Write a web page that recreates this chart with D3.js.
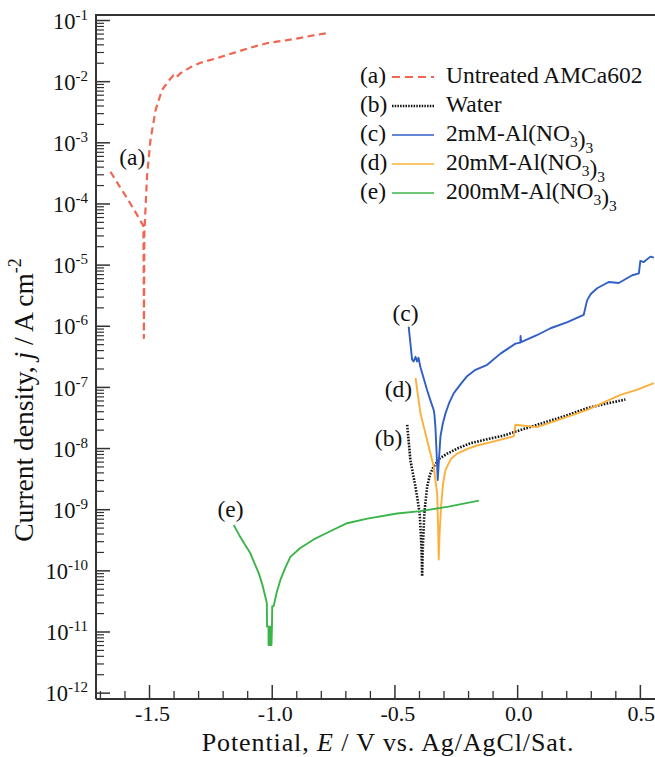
<!DOCTYPE html>
<html>
<head>
<meta charset="utf-8">
<script src="https://cdn.jsdelivr.net/npm/d3@7"></script>
<style>
  body { margin: 0; background: #fff; }
  svg { display: block; }
  text { font-family: "Liberation Serif", "LiberationSerif", "Times New Roman", Times, "Nimbus Roman", "DejaVu Serif", serif; fill: #111; }
</style>
</head>
<body>
<svg id="chart" width="655" height="757"></svg>
<script>
// Polarization curves: potential E (V vs. Ag/AgCl/Sat.) and current density j (A cm^-2)

// (a) Untreated AMCa602
const curveA = [
  [-1.657, 3.3e-4], [-1.620, 1.9e-4], [-1.588, 1.2e-4], [-1.555, 7.2e-5], [-1.523, 4.3e-5],
  [-1.522, 1.2e-5], [-1.521, 2.6e-6], [-1.521, 6.3e-7], [-1.520, 2.6e-6], [-1.519, 3.3e-5],
  [-1.508, 2.8e-4], [-1.494, 1.1e-3], [-1.473, 3.4e-3], [-1.447, 7.2e-3], [-1.413, 1.1e-2],
  [-1.400, 1.25e-2], [-1.390, 1.15e-2], [-1.372, 1.35e-2], [-1.330, 1.7e-2], [-1.290, 2.0e-2],
  [-1.220, 2.4e-2], [-1.155, 2.9e-2], [-1.090, 3.5e-2], [-1.017, 4.2e-2], [-0.950, 4.6e-2],
  [-0.883, 5.1e-2], [-0.830, 5.6e-2], [-0.773, 6.1e-2]
];

// (b) Water
const curveB = [
  [-0.448, 2.4e-8], [-0.435, 6.3e-9], [-0.414, 2.3e-9], [-0.397, 8.5e-10], [-0.390, 2.5e-10],
  [-0.387, 8.0e-11], [-0.384, 2.5e-10], [-0.378, 8.7e-10], [-0.367, 2.3e-9], [-0.355, 3.7e-9],
  [-0.340, 5.0e-9], [-0.315, 6.8e-9], [-0.285, 8.1e-9], [-0.240, 1.0e-8], [-0.190, 1.2e-8],
  [-0.120, 1.4e-8], [-0.055, 1.6e-8], [0.010, 1.95e-8], [0.081, 2.4e-8], [0.180, 3.2e-8],
  [0.285, 4.5e-8], [0.360, 5.3e-8], [0.441, 6.2e-8]
];

// (c) 2mM-Al(NO3)3
const curveC = [
  [-0.442, 9.7e-7], [-0.428, 2.8e-7], [-0.4225, 2.6e-7], [-0.414, 3.1e-7], [-0.408, 2.6e-7],
  [-0.402, 3.0e-7], [-0.394, 2.1e-7], [-0.380, 1.35e-7], [-0.367, 8.9e-8], [-0.352, 5.8e-8],
  [-0.340, 4.2e-8], [-0.337, 3.5e-8], [-0.333, 2.2e-8], [-0.328, 8.0e-9], [-0.3235, 3.0e-9],
  [-0.318, 7.0e-9], [-0.3125, 1.55e-8], [-0.303, 2.5e-8], [-0.292, 3.7e-8], [-0.276, 5.6e-8],
  [-0.258, 7.9e-8], [-0.231, 1.1e-7], [-0.204, 1.5e-7], [-0.170, 1.9e-7], [-0.122, 2.3e-7],
  [-0.068, 3.5e-7], [-0.007, 5.1e-7], [0.013, 5.3e-7], [0.014, 6.8e-7], [0.016, 5.4e-7],
  [0.080, 7.0e-7], [0.136, 9.1e-7], [0.205, 1.15e-6], [0.271, 1.5e-6], [0.285, 2.6e-6],
  [0.300, 3.3e-6], [0.326, 4.1e-6], [0.373, 5.2e-6], [0.414, 5.0e-6], [0.469, 6.7e-6],
  [0.496, 7.2e-6], [0.502, 1.15e-5], [0.516, 1.1e-5], [0.543, 1.35e-5], [0.557, 1.3e-5]
];

// (d) 20mM-Al(NO3)3
const curveD = [
  [-0.414, 1.4e-7], [-0.394, 3.7e-8], [-0.380, 2.2e-8], [-0.367, 1.35e-8], [-0.340, 5.0e-9],
  [-0.326, 1.8e-9], [-0.322, 5.0e-10], [-0.3195, 1.5e-10], [-0.316, 4.0e-10], [-0.310, 1.1e-9],
  [-0.302, 2.6e-9], [-0.292, 4.4e-9], [-0.270, 6.6e-9], [-0.2445, 8.1e-9], [-0.200, 9.8e-9],
  [-0.163, 1.1e-8], [-0.090, 1.3e-8], [-0.014, 1.55e-8], [-0.007, 2.4e-8], [0.081, 2.2e-8],
  [0.180, 3.0e-8], [0.285, 4.2e-8], [0.421, 7.4e-8], [0.490, 9.0e-8], [0.557, 1.15e-7]
];

// (e) 200mM-Al(NO3)3
const curveE = [
  [-1.155, 5.5e-10], [-1.140, 4.3e-10], [-1.128, 3.5e-10], [-1.108, 2.6e-10], [-1.087, 1.9e-10],
  [-1.070, 1.3e-10], [-1.053, 9.0e-11], [-1.038, 5.8e-11], [-1.026, 3.7e-11], [-1.020, 2.9e-11],
  [-1.019, 1.2e-11], [-1.013, 1.2e-11], [-1.013, 6e-12], [-1.011, 1.2e-11], [-1.009, 6e-12],
  [-1.007, 1.2e-11], [-1.005, 6e-12], [-1.003, 1.2e-11], [-1.001, 6e-12], [-0.999, 1.2e-11],
  [-0.998, 2.6e-11], [-0.992, 2.6e-11], [-0.980, 4.3e-11], [-0.965, 6.9e-11], [-0.945, 1.1e-10],
  [-0.924, 1.66e-10], [-0.885, 2.3e-10], [-0.829, 3.2e-10], [-0.770, 4.2e-10], [-0.693, 5.9e-10],
  [-0.610, 7.0e-10], [-0.489, 8.5e-10], [-0.394, 9.3e-10], [-0.280, 1.1e-9], [-0.156, 1.38e-9]
];

const seriesKeys = ["(a)", "(b)", "(c)", "(d)", "(e)"];
const legendNames = [
  [["Untreated AMCa602"]],
  [["Water"]],
  [["2mM-Al(NO"], ["3", "sub"], [")"], ["3", "sub"]],
  [["20mM-Al(NO"], ["3", "sub"], [")"], ["3", "sub"]],
  [["200mM-Al(NO"], ["3", "sub"], [")"], ["3", "sub"]]
];
const xMajorTicks = [-1.5, -1.0, -0.5, 0.0, 0.5];
const xTickLabels = ["-1.5", "-1.0", "-0.5", "0.0", "0.5"];
const decadeExponents = [-12, -11, -10, -9, -8, -7, -6, -5, -4, -3, -2, -1];

const series = [
  { key: "(a)", data: curveA, color: "#f26552", width: 2.2, dash: "7,4.5", label: [-1.568, 5.8e-4] },
  { key: "(b)", data: curveB, color: "#111111", width: 2.6, dash: "1.6,1.4", label: [-0.524, 1.5e-8] },
  { key: "(c)", data: curveC, color: "#2f5fc4", width: 1.9, dash: null, label: [-0.455, 1.66e-6] },
  { key: "(d)", data: curveD, color: "#fbb03b", width: 1.9, dash: null, label: [-0.484, 9.3e-8] },
  { key: "(e)", data: curveE, color: "#3bb54a", width: 1.9, dash: null, label: [-1.168, 1.0e-9] }
];

const FONT = '"Liberation Serif", "LiberationSerif", "Times New Roman", Times, "Nimbus Roman", "DejaVu Serif", serif';

const svg = d3.select("#chart");
const plot = { left: 96, right: 664.4, top: 15, bottom: 699 };

const x = d3.scaleLinear().domain([-1.716, 0.6]).range([plot.left, plot.right]);
const y = d3.scaleLog().domain([7.87e-13, 0.1208]).range([plot.bottom, plot.top]);

const axisColor = "#333";

// clip region for the curves
svg.append("defs").append("clipPath").attr("id", "plotClip")
  .append("rect").attr("x", plot.left).attr("y", plot.top)
  .attr("width", plot.right - plot.left).attr("height", plot.bottom - plot.top);

// ---- x axis: major + minor ticks pointing inward ----
const xMinor = d3.range(-17, 7).map(i => i / 10).filter(v => !xMajorTicks.some(m => Math.abs(m - v) < 1e-9));

const xAxisMajor = d3.axisBottom(x).tickValues(xMajorTicks).tickSize(-14).tickSizeOuter(0)
  .tickPadding(6).tickFormat((d, i) => xTickLabels[i]);
const gx = svg.append("g").attr("transform", `translate(0,${plot.bottom})`).call(xAxisMajor);
gx.attr("font-family", null);
gx.select(".domain").remove();
gx.selectAll(".tick line").attr("stroke", axisColor).attr("stroke-width", 1.5);
gx.selectAll(".tick text").attr("font-size", 22).attr("fill", "#111").style("font-family", FONT)
  .attr("dx", d => d < 0 ? 3 : 1);

const gxMinor = svg.append("g").attr("transform", `translate(0,${plot.bottom})`)
  .call(d3.axisBottom(x).tickValues(xMinor).tickSize(-8).tickSizeOuter(0).tickFormat(""));
gxMinor.select(".domain").remove();
gxMinor.selectAll(".tick line").attr("stroke", axisColor).attr("stroke-width", 1.3);

// ---- y axis: decades + minor ticks ----
const yMajor = decadeExponents.map(e => Math.pow(10, e));
const yMinor = [];
decadeExponents.slice(0, -1).forEach(e => {
  for (let m = 2; m <= 9; m++) yMinor.push(m * Math.pow(10, e));
});

const gy = svg.append("g").attr("transform", `translate(${plot.left},0)`)
  .call(d3.axisLeft(y).tickValues(yMajor).tickSize(-14).tickSizeOuter(0).tickPadding(8).tickFormat(""));
gy.attr("font-family", null);
gy.select(".domain").remove();
gy.selectAll(".tick line").attr("stroke", axisColor).attr("stroke-width", 1.5);
gy.selectAll(".tick text").each(function(d, i) {
  const t = d3.select(this)
    .attr("font-size", 22.5).attr("fill", "#111").attr("dy", "0.36em")
    .style("font-family", FONT);
  t.text(null);
  t.append("tspan").text("10");
  t.append("tspan").attr("font-size", 15).attr("dy", -9).text(String(decadeExponents[i]));
});

const gyMinor = svg.append("g").attr("transform", `translate(${plot.left},0)`)
  .call(d3.axisLeft(y).tickValues(yMinor).tickSize(-8).tickSizeOuter(0).tickFormat(""));
gyMinor.select(".domain").remove();
gyMinor.selectAll(".tick line").attr("stroke", axisColor).attr("stroke-width", 1.2);

// frame lines (left, bottom, top)
svg.append("line").attr("x1", plot.left).attr("x2", plot.left).attr("y1", plot.top - 1).attr("y2", plot.bottom)
  .attr("stroke", axisColor).attr("stroke-width", 2);
svg.append("line").attr("x1", plot.left).attr("x2", 655).attr("y1", plot.bottom).attr("y2", plot.bottom)
  .attr("stroke", axisColor).attr("stroke-width", 2);
svg.append("line").attr("x1", plot.left).attr("x2", 655).attr("y1", plot.top).attr("y2", plot.top)
  .attr("stroke", axisColor).attr("stroke-width", 2);

// ---- curves ----
const line = d3.line().x(d => x(d[0])).y(d => y(d[1]));
const curves = svg.append("g").attr("clip-path", "url(#plotClip)");
series.forEach(s => {
  curves.append("path").datum(s.data)
    .attr("d", line)
    .attr("fill", "none")
    .attr("stroke", s.color)
    .attr("stroke-width", s.width)
    .attr("stroke-linejoin", "round")
    .attr("stroke-dasharray", s.dash);
});

// curve tags
series.forEach(s => {
  svg.append("text")
    .attr("x", x(s.label[0])).attr("y", y(s.label[1]))
    .attr("text-anchor", "middle").attr("dy", "0.35em")
    .attr("font-size", 23.5)
    .text(s.key);
});

// ---- legend ----
const legend = svg.append("g");
const legendX = 360, legendY0 = 83, legendStep = 29;
series.forEach((s, i) => {
  const yy = legendY0 + i * legendStep;
  legend.append("text").attr("x", legendX).attr("y", yy).attr("font-size", 23.5).text(seriesKeys[i]);
  legend.append("line")
    .attr("x1", 392).attr("x2", 434).attr("y1", yy - 6).attr("y2", yy - 6)
    .attr("stroke", s.color).attr("stroke-width", s.dash ? s.width : 1.6)
    .attr("stroke-dasharray", s.key === "(a)" ? "8,5" : (s.key === "(b)" ? "1.5,1.2" : null));
  const t = legend.append("text").attr("x", 446).attr("y", yy).attr("font-size", 23.5);
  legendNames[i].forEach(seg => {
    if (seg[1] === "sub") {
      t.append("tspan").attr("font-size", 15.5).attr("dy", 6).text(seg[0]);
      t.append("tspan").attr("dy", -6).text("");
    } else {
      t.append("tspan").text(seg[0]);
    }
  });
});

// ---- axis titles ----
const xTitle = svg.append("text").attr("x", 388).attr("y", 750.5)
  .attr("text-anchor", "middle").attr("font-size", 26).attr("letter-spacing", 0.9);
xTitle.append("tspan").text("Potential,  ");
xTitle.append("tspan").attr("font-style", "italic").text("E");
xTitle.append("tspan").text(" / V vs. Ag/AgCl/Sat.");

const yTitle = svg.append("text")
  .attr("transform", "translate(33,400) rotate(-90)")
  .attr("text-anchor", "middle").attr("font-size", 27.5);
yTitle.append("tspan").text("Current density, ");
yTitle.append("tspan").attr("font-style", "italic").text("j");
yTitle.append("tspan").text(" / A cm");
yTitle.append("tspan").attr("font-size", 18).attr("dy", -12).text("-2");
</script>
</body>
</html>
